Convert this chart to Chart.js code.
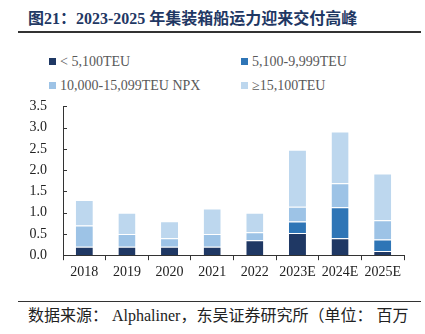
<!DOCTYPE html>
<html>
<head>
<meta charset="utf-8">
<script src="https://cdn.jsdelivr.net/npm/chart.js@4.4.0/dist/chart.umd.min.js"></script>
<style>
  body { margin: 0; width: 425px; height: 334px; background: #fff; position: relative; overflow: hidden; font-family: "Liberation Serif", "Noto Sans CJK SC", serif; }
  #title { position: absolute; left: 28px; top: 5px; font-size: 16px; font-weight: bold; color: #1f3864; white-space: nowrap; font-family: "Liberation Serif", "Noto Sans CJK SC", serif; }
  #topline { position: absolute; left: 18px; top: 31px; width: 403px; height: 2px; background: #333; }
  #legend { position: absolute; left: 0; top: 54px; width: 425px; }
  .item { position: absolute; font-size: 14px; color: #595959; white-space: nowrap; line-height: 16px; }
  .item span { display: inline-block; width: 7px; height: 7px; margin-right: 4px; vertical-align: 1px; }
  #chartBox { position: absolute; left: 0; top: 90px; width: 425px; height: 195px; }
  #bottomline { position: absolute; left: 18px; top: 301px; width: 403px; height: 1px; background: #333; }
  #source { position: absolute; left: 28px; top: 302px; font-size: 16px; color: #222; white-space: nowrap; }
</style>
</head>
<body>
<div id="title">图21：2023-2025 年集装箱船运力迎来交付高峰</div>
<div id="topline"></div>
<div id="legend"></div>
<div id="chartBox"><canvas id="fleetChart"></canvas></div>
<div id="bottomline"></div>
<div id="source">数据来源： Alphaliner，东吴证券研究所（单位： 百万</div>
<script>
// categories and series (million TEU)
const years = ['2018', '2019', '2020', '2021', '2022', '2023E', '2024E', '2025E'];
const small = [0.2, 0.2, 0.2, 0.2, 0.35, 0.52, 0.4, 0.1];
const mid = [0, 0, 0, 0, 0, 0.27, 0.73, 0.27];
const npx = [0.5, 0.3, 0.2, 0.3, 0.19, 0.35, 0.56, 0.45];
const large = [0.6, 0.5, 0.4, 0.6, 0.46, 1.34, 1.22, 1.1];
const seriesNames = ['< 5,100TEU', '5,100-9,999TEU', '10,000-15,099TEU NPX', '≥15,100TEU'];
const seriesColors = ['#1f3864', '#2e75b6', '#9dc3e6', '#bdd7ee'];
const yTicks = [0, 0.5, 1, 1.5, 2, 2.5, 3, 3.5];

// legend in two columns
const legendPos = [[49, 0], [241, 0], [49, 24], [241, 24]];
const legendEl = document.getElementById('legend');
seriesNames.forEach((name, i) => {
  const d = document.createElement('div');
  d.className = 'item';
  d.style.left = legendPos[i][0] + 'px';
  d.style.top = legendPos[i][1] + 'px';
  d.innerHTML = '<span style="background:' + seriesColors[i] + '"></span>' + name;
  legendEl.appendChild(d);
});

// small inward tick marks on the y axis
const yInTicks = {
  id: 'yInTicks',
  afterDraw(chart) {
    const y = chart.scales.y;
    const c = chart.ctx;
    c.save();
    c.strokeStyle = '#333';
    c.lineWidth = 1;
    yTicks.forEach(v => {
      const py = Math.round(y.getPixelForValue(v)) + 0.5;
      c.beginPath();
      c.moveTo(y.right, py);
      c.lineTo(y.right + 4, py);
      c.stroke();
    });
    c.restore();
  }
};

const ctx = document.getElementById('fleetChart').getContext('2d');
new Chart(ctx, {
  type: 'bar',
  data: {
    labels: years,
    datasets: [small, mid, npx, large].map((vals, i) => ({
      label: seriesNames[i],
      data: vals,
      backgroundColor: seriesColors[i],
      borderColor: '#ffffff',
      borderWidth: { top: 1 },
      borderSkipped: false,
      barPercentage: 0.4,
      categoryPercentage: 1
    }))
  },
  options: {
    responsive: true,
    maintainAspectRatio: false,
    animation: false,
    layout: { padding: { top: 10, right: 21, left: 0, bottom: 0 } },
    plugins: { legend: { display: false }, tooltip: { enabled: false } },
    scales: {
      x: {
        stacked: true,
        grid: { offset: true, drawOnChartArea: false, tickLength: 5, color: '#333' },
        border: { color: '#333', width: 1 },
        ticks: { color: '#222', padding: 4, font: { family: 'Liberation Serif', size: 14 } }
      },
      y: {
        stacked: true,
        min: 0,
        max: 3.5,
        afterBuildTicks: axis => { axis.ticks = yTicks.map(v => ({ value: v })); },
        afterFit: axis => { axis.width = 63; },
        grid: { display: false },
        border: { color: '#333', width: 1 },
        ticks: { color: '#222', padding: 8, font: { family: 'Liberation Serif', size: 14 }, callback: v => v.toFixed(1) }
      }
    }
  },
  plugins: [yInTicks]
});
</script>
</body>
</html>
